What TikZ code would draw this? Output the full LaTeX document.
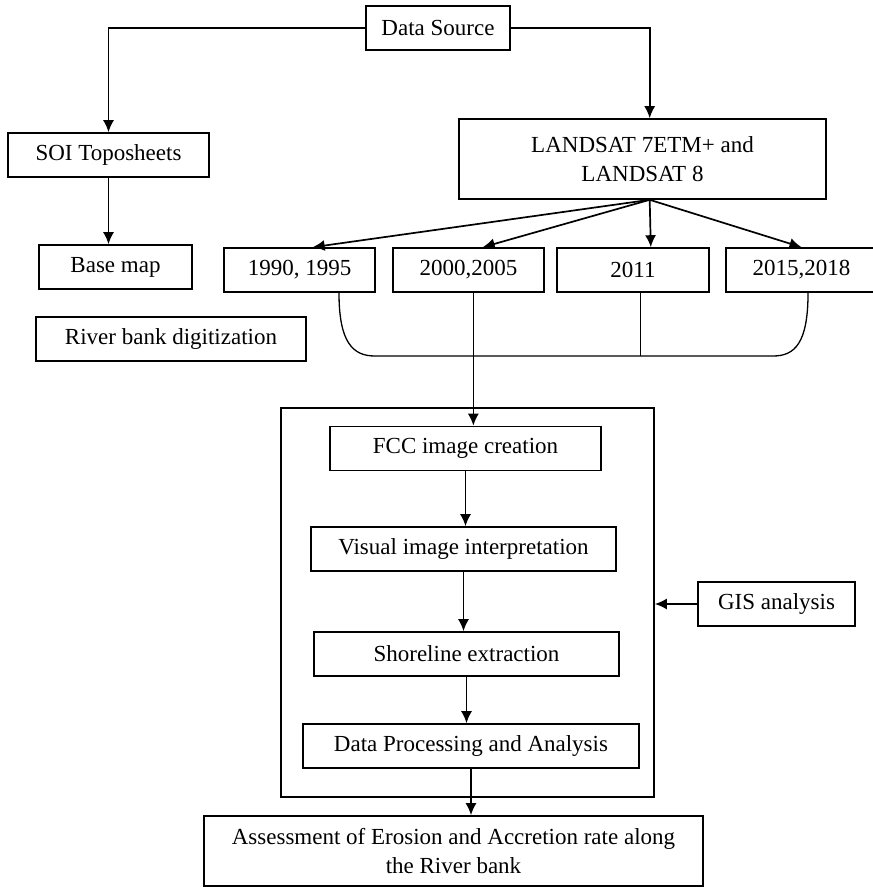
\documentclass[tikz,border=0pt]{standalone}
\usepackage{fontspec}
\setmainfont{Liberation Serif}
\usetikzlibrary{
    arrows.meta,
    calc
}
\tikzset{
    block/.style={
        rectangle,
        draw=black,
        line width=1.6pt,
        align=center,
        inner sep=0pt,
        minimum height=44pt,
        font=\fontsize{23}{29}\selectfont
    },
    outerbox/.style={
        rectangle,
        draw=black,
        line width=1.6pt,
        inner sep=0pt
    },
    arrow/.style={
        -{Latex[length=12pt, width=11pt]},
        line width=1.7pt
    },
    link/.style={
        line width=1.3pt
    }
}

\begin{document}
\begin{tikzpicture}[x=1pt, y=-1pt]
\useasboundingbox (0,0) rectangle (873,887);

% processing frame
\node[outerbox, minimum width=373pt, minimum height=389pt] (proc) at (467.5,602.5) {};

\node[block, minimum width=144pt] (source) at (438,28) {Data Source};
\node[block, minimum width=201pt] (soi) at (108.5,155) {SOI Toposheets};
\node[block, minimum width=153pt] (basemap) at (115.5,267) {Base map};
\node[block, minimum width=367pt, minimum height=80pt] (landsat) at (642.5,159) {LANDSAT 7ETM+ and\\LANDSAT 8};
\node[block, minimum width=151pt] (y1990) at (299.5,270) {1990, 1995};
\node[block, minimum width=151pt] (y2000) at (468.5,270) {2000,2005};
\node[block, minimum width=152pt] (y2011) at (633,270) {2011};
\node[block, minimum width=151pt] (y2015) at (801.5,270) {2015,2018};
\node[block, minimum width=270pt] (river) at (171,339) {River bank digitization};

\node[block, minimum width=271pt] (fcc) at (465.5,448.5) {FCC image creation};
\node[block, minimum width=305pt] (visual) at (463.5,549) {Visual image interpretation};
\node[block, minimum width=305pt] (shore) at (466.5,654) {Shoreline extraction};
\node[block, minimum width=336pt] (dproc) at (471,746) {Data Processing and Analysis};
\node[block, minimum width=157pt] (gis) at (776.5,604) {GIS analysis};
\node[block, minimum width=499pt, minimum height=70pt] (result) at (453.5,851) {Assessment of Erosion and Accretion rate along\\the River bank};

\coordinate (bl) at (375,356);
\coordinate (br) at (773,356);

\draw[arrow] (source.west) -| (soi.north);
\draw[arrow] (source.east) -| (landsat.80);
\draw[arrow] (soi) -- (soi |- basemap.north);

\draw[arrow] (landsat.-80) -- (y1990.60);
\draw[arrow] (landsat.-80) -- (y2000.58);
\draw[arrow] (landsat.-80) -- (y2011.52);
\draw[arrow] (landsat.-80) -- (y2015.north);

% bracket joining the years
\draw[link] (y1990.-30) .. controls +(0,50) and +(-22,0) .. (bl) -- (br) .. controls +(22,0) and +(0,50) .. (y2015.-74);
\draw[link] (y2011.-72) -- (y2011.-72 |- bl);
\draw[arrow] (y2000.-78) -- (y2000.-78 |- fcc.north);

\draw[arrow] (fcc) -- (fcc |- visual.north);
\draw[arrow] (visual) -- (visual |- shore.north);
\draw[arrow] (shore) -- (shore |- dproc.north);
\draw[arrow] (dproc) -- (dproc |- result.north);
\draw[arrow] (gis) -- (gis -| proc.east);
\end{tikzpicture}
\end{document}
